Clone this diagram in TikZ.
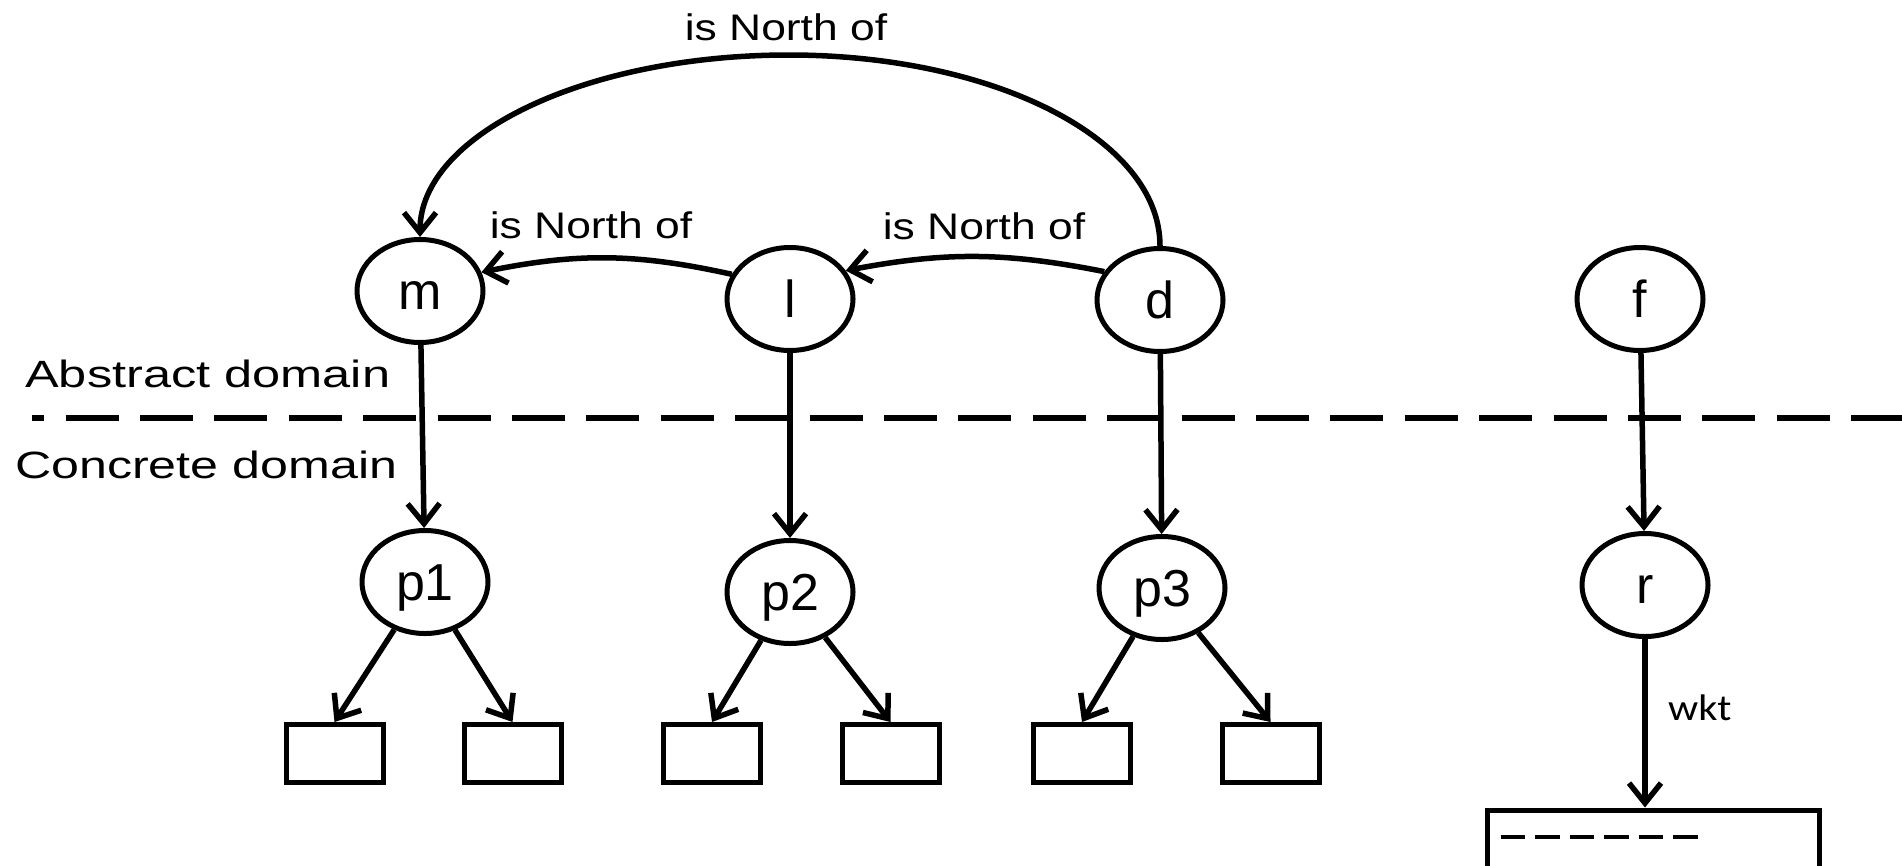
\documentclass[tikz,border=0pt]{standalone}
\usepackage{fontspec}
\setmainfont{Liberation Sans}
\newfontfamily\wktfont{Carlito}
\usetikzlibrary{shapes.geometric,arrows.meta}

\begin{document}
\begin{tikzpicture}[x=1pt,y=1pt,
  concept/.style={draw,ellipse,line width=5pt,minimum width=126pt,minimum height=103pt,
    inner sep=0pt,font=\fontsize{52}{52}\selectfont,text height=37pt,text depth=0pt},
  leaf/.style={draw,rectangle,line width=5pt,minimum width=97pt,minimum height=58pt,inner sep=0pt},
  link/.style={line width=5.5pt,-{Straight Barb[length=20pt,width=32pt]}},
  rel/.style={anchor=base,inner sep=0pt,font=\fontsize{37}{37}\selectfont},
  domainlabel/.style={anchor=base west,inner sep=0pt,font=\fontsize{38}{38}\selectfont},
]
\fill[white] (0,0) rectangle (1902,-865);
\useasboundingbox (0,0) rectangle (1902,-865);

% boundary between the two domains
\draw[line width=6.5pt,dash pattern=on 53pt off 21.4pt,dash phase=40.8pt] (32,-418) -- (1902,-418);
\node[domainlabel] (abs) at (25,-387) {\scalebox{1.33}[1]{Abstract domain}};
\node[domainlabel] (con) at (15,-478) {\scalebox{1.32}[1]{Concrete domain}};

% abstract concepts
\node[concept] (m) at (420,-291) {m};
\node[concept] (l) at (790,-299) {l};
\node[concept] (d) at (1160,-300) {d};
\node[concept] (f) at (1640,-299) {f};

% concrete places
\node[concept] (p1) at (425,-582) {p1};
\node[concept] (p2) at (790,-592) {p2};
\node[concept] (p3) at (1162,-588) {p3};
\node[concept] (r) at (1645,-585) {r};

% leaves
\node[leaf] (b1) at (334.5,-753.5) {};
\node[leaf] (b2) at (512.5,-753.5) {};
\node[leaf] (b3) at (712,-753.5) {};
\node[leaf] (b4) at (890.5,-753.5) {};
\node[leaf] (b5) at (1082,-753.5) {};
\node[leaf] (b6) at (1270.5,-753.5) {};

% geometry record
\node[draw,rectangle,line width=5pt,minimum width=332pt,minimum height=75pt,inner sep=0pt,anchor=north]
  (geo) at (1653.5,-807.5) {};
\draw[line width=4pt,dash pattern=on 24.5pt off 10pt]
  ([xshift=15.5pt,yshift=-29.5pt]geo.north west) -- ++(197,0);

% relations between abstract concepts
\coordinate (apex) at (789,-55);
\draw[link] (d.north) .. controls +(0,107) and (994,-55) .. (apex)
  .. controls (585,-55) and +(0,102) .. (m.north);
\node[rel] (n1) at (786,-40) {\scalebox{1.2}[1]{is North of}};
\draw[link] (l.157) to[bend right=12] (m.17);
\node[rel] (n2) at (591,-238) {\scalebox{1.2}[1]{is North of}};
\draw[link] (d.153) to[bend right=11] (l.27);
\node[rel] (n3) at (984,-239) {\scalebox{1.2}[1]{is North of}};

% abstract to concrete
\draw[link] (m) -- (p1);
\draw[link] (l) -- (p2);
\draw[link] (d) -- (p3);
\draw[link] (f) -- (r);

% places to leaves
\draw[link] (p1) -- (b1.north);
\draw[link] (p1) -- (b2.north);
\draw[link] (p2) -- (b3.north);
\draw[link] (p2) -- (b4.north);
\draw[link] (p3) -- (b5.north);
\draw[link] (p3) -- (b6.north);

\draw[link] (r.south) -- (r.south |- geo.north);
\node[anchor=base west,inner sep=0pt,font=\wktfont\fontsize{37}{37}\selectfont] (wk) at (1668,-720)
  {\scalebox{1.14}[1]{wkt}};
\end{tikzpicture}
\end{document}
